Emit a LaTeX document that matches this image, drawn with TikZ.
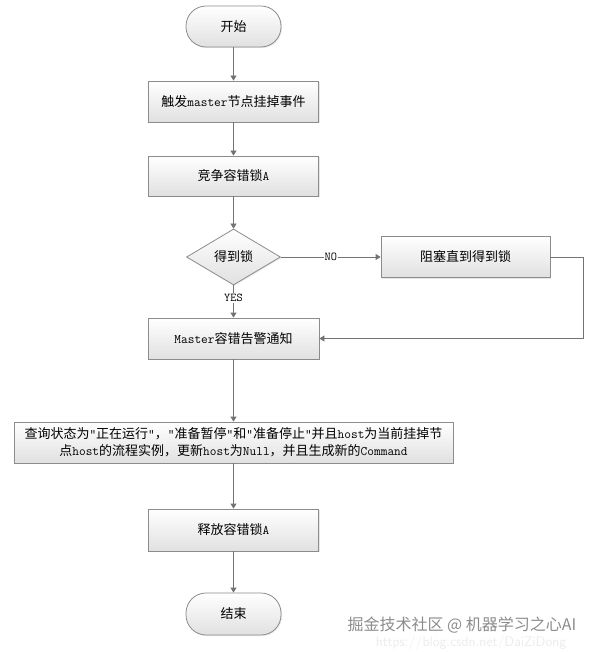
\documentclass[tikz,border=0pt]{standalone}
\usepackage{fontspec}
\newfontfamily\cjk{Noto Sans CJK SC}
\usetikzlibrary{arrows.meta,shapes.geometric,shadows}
\newcommand\lat[1]{{\ttfamily #1}}
\tikzset{
	boxfill/.style={top color=white, bottom color=black!12, draw=black!45, line width=0.8pt,
		drop shadow={shadow xshift=1pt, shadow yshift=-1pt, fill=black!18}},
	procbox/.style={boxfill, rectangle, minimum width=170pt, minimum height=41pt, inner sep=2pt,
		align=center, font=\cjk\fontsize{13}{17}\selectfont},
	termbox/.style={procbox, rounded corners=20pt, minimum width=95pt},
	decbox/.style={boxfill, diamond, aspect=1.68, minimum width=94pt, minimum height=56pt,
		inner sep=0pt, font=\cjk\fontsize{13}{17}\selectfont},
	flowarr/.style={draw=black!55, line width=0.8pt, -{Triangle[length=5pt,width=6pt]}},
	lbl/.style={fill=white, inner sep=1pt, font=\ttfamily\fontsize{12}{14}\selectfont}
}
\begin{document}
\begin{tikzpicture}[x=1pt,y=-1pt]
		%%%%% START %%%%%
		\useasboundingbox (0,0) rectangle (596,652);
		
		\node[termbox] (start) at (233.5,26.5) {开始};
		\node[procbox] (trig) at (233.5,101.5) {触发\lat{master}节点挂掉事件};
		\node[procbox, minimum height=40pt] (race) at (233.5,176) {竞争容错锁\lat{A}};
		\node[decbox] (gotlock) at (233.5,257) {得到锁};
		\node[procbox, minimum width=169pt] (block) at (465.5,257) {阻塞直到得到锁};
		\node[procbox, minimum width=171pt] (mastr) at (233.5,338.5) {\lat{Master}容错告警通知};
		\node[procbox, minimum width=439pt] (query) at (233.5,442.5)
			{查询状态为\lat{“}正在运行\lat{”}，\lat{“}准备暂停\lat{”}和\lat{“}准备停止\lat{”}并且\lat{host}为当前挂掉节\\
			点\lat{host}的流程实例，更新\lat{host}为\lat{Null}，并且生成新的\lat{Command}};
		\node[procbox, minimum height=42pt] (release) at (233.5,530) {释放容错锁\lat{A}};
		\node[termbox, minimum height=42pt] (finish) at (233.5,614) {结束};
		
		% connectors
		\draw[flowarr] (start) -- (trig);
		\draw[flowarr] (trig) -- (race);
		\draw[flowarr] (race) -- (gotlock);
		\draw[flowarr] (gotlock.east) -- node[lbl] {NO} (block.west);
		\draw[flowarr] (gotlock.south) -- node[lbl, pos=0.4] {YES} (mastr.north);
		\draw[flowarr] (block.east) -- ++(33,0) |- (mastr.east);
		\draw[flowarr] (mastr) -- (query);
		\draw[flowarr] (query) -- (release);
		\draw[flowarr] (release) -- (finish);
		
		% watermark
		\node[text=black!8, font=\sffamily\fontsize{14}{15}\selectfont] (wurl) at (471,643) {https://blog.csdn.net/DaiZiDong};
		\node[text=black!45, font=\cjk\fontsize{16}{18}\selectfont] (wmark) at (462,625) {掘金技术社区 @ 机器学习之心AI};
		%%%%% END %%%%%
\end{tikzpicture}
\end{document}
